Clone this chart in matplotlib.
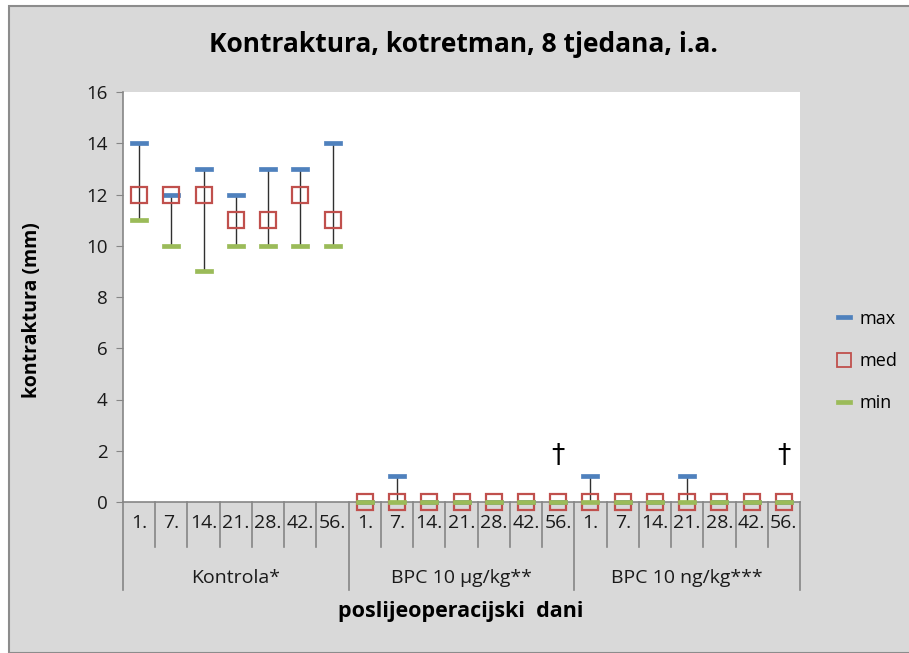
import matplotlib

matplotlib.use("Agg")
import matplotlib.pyplot as plt
import numpy as np
from matplotlib.lines import Line2D
from matplotlib.patches import Rectangle
from matplotlib.path import Path
from matplotlib.transforms import blended_transform_factory

plt.rcParams["font.family"] = ["Open Sans", "DejaVu Sans"]

groups = ["Kontrola*", "BPC 10 µg/kg**", "BPC 10 ng/kg***"]
days = ["1.", "7.", "14.", "21.", "28.", "42.", "56."]

max_vals = [14, 12, 13, 12, 13, 13, 14,
            0, 1, 0, 0, 0, 0, 0,
            1, 0, 0, 1, 0, 0, 0]
med_vals = [12, 12, 12, 11, 11, 12, 11,
            0, 0, 0, 0, 0, 0, 0,
            0, 0, 0, 0, 0, 0, 0]
min_vals = [11, 10, 9, 10, 10, 10, 10,
            0, 0, 0, 0, 0, 0, 0,
            0, 0, 0, 0, 0, 0, 0]
# dagger marks (group index, day index)
dagger_marks = [(1, 6), (2, 6)]
dagger_y = 1.8

BLUE = "#4F81BD"
RED = "#C0504D"
GREEN = "#9BBB59"
GREY_BG = "#D9D9D9"
AXIS_GREY = "#868686"

W, H = 909, 653
fig = plt.figure(figsize=(W / 100, H / 100), dpi=100, facecolor="white")
fig.patches.append(
    Rectangle((9 / W, 0), 1, 1 - 6 / H, transform=fig.transFigure,
              facecolor=GREY_BG, edgecolor="#8C8C8C", linewidth=1.5, zorder=-5)
)

ax = fig.add_axes([123 / W, 1 - 502 / H, (800 - 123) / W, (502 - 92) / H])
ax.set_zorder(2)
ax.set_facecolor("white")

n = len(max_vals)
x = np.arange(n)
dash = Path([(-1, -0.28), (1, -0.28), (1, 0.28), (-1, 0.28), (-1, -0.28)],
            [Path.MOVETO, Path.LINETO, Path.LINETO, Path.LINETO, Path.CLOSEPOLY])

ax.vlines(x, min_vals, max_vals, color="#303030", linewidth=1.0, zorder=2)
ax.plot(x, max_vals, linestyle="none", marker=dash, markersize=12.5, clip_on=False,
        markerfacecolor=BLUE, markeredgecolor=BLUE, markeredgewidth=0.5, zorder=3)
ax.plot(x, med_vals, linestyle="none", marker="s", markersize=11, clip_on=False,
        markerfacecolor="none", markeredgecolor=RED, markeredgewidth=1.6, zorder=4)
ax.plot(x, min_vals, linestyle="none", marker=dash, markersize=12.5, clip_on=False,
        markerfacecolor=GREEN, markeredgecolor=GREEN, markeredgewidth=0.5, zorder=5)

for g, d in dagger_marks:
    ax.text(g * len(days) + d, dagger_y, "†", ha="center", va="center",
            fontsize=19, color="black", family="DejaVu Sans")

ax.set_xlim(-0.5, n - 0.5)
ax.set_ylim(0, 16)
ax.set_yticks(np.arange(0, 17, 2))
ax.tick_params(axis="y", direction="out", length=5, color=AXIS_GREY,
               labelsize=13.5, pad=6, labelcolor="#1a1a1a")
ax.set_xticks([])
for side in ("top", "right"):
    ax.spines[side].set_visible(False)
ax.spines["left"].set_color(AXIS_GREY)
ax.spines["bottom"].set_color(AXIS_GREY)
ax.spines["left"].set_linewidth(1.2)
ax.spines["bottom"].set_linewidth(1.2)
ax.spines["bottom"].set_zorder(1)

# multi-level category axis
ax_h = 502 - 92
trans = blended_transform_factory(ax.transData, ax.transAxes)
for i in range(n + 1):
    xpos = i - 0.5
    depth = 88 if i % len(days) == 0 else 45
    ax.plot([xpos, xpos], [0, -depth / ax_h], transform=trans, color=AXIS_GREY,
            linewidth=1.2, clip_on=False)
for gi, gname in enumerate(groups):
    for di, dname in enumerate(days):
        ax.text(gi * len(days) + di, -21 / ax_h, dname, transform=trans,
                ha="center", va="center", fontsize=14, color="#1a1a1a")
    ax.text(gi * len(days) + (len(days) - 1) / 2, -76 / ax_h, gname, transform=trans,
            ha="center", va="center", fontsize=14, color="#1a1a1a")

fig.text(461 / W, 1 - 612 / H, "poslijeoperacijski  dani", ha="center", va="center",
         fontsize=15.5, fontweight="bold")
fig.text(32 / W, 1 - 310 / H, "kontraktura (mm)", ha="center", va="center",
         rotation=90, fontsize=14, fontweight="bold")
fig.text(463 / W, 1 - 45 / H, "Kontraktura, kotretman, 8 tjedana, i.a.",
         ha="center", va="center", fontsize=19, fontweight="bold")

handles = [
    Line2D([], [], linestyle="none", marker=dash, markersize=11,
           markerfacecolor=BLUE, markeredgecolor=BLUE, markeredgewidth=0.5),
    Line2D([], [], linestyle="none", marker="s", markersize=10,
           markerfacecolor="none", markeredgecolor=RED, markeredgewidth=1.3),
    Line2D([], [], linestyle="none", marker=dash, markersize=11,
           markerfacecolor=GREEN, markeredgecolor=GREEN, markeredgewidth=0.5),
]
fig.legend(handles, ["max", "med", "min"], loc="center left",
           bbox_to_anchor=(819 / W, 1 - 361 / H), frameon=False, fontsize=13,
           labelspacing=1.35, handlelength=1.0, handletextpad=0.35)

fig.savefig("out.png", dpi=100, facecolor=fig.get_facecolor())
